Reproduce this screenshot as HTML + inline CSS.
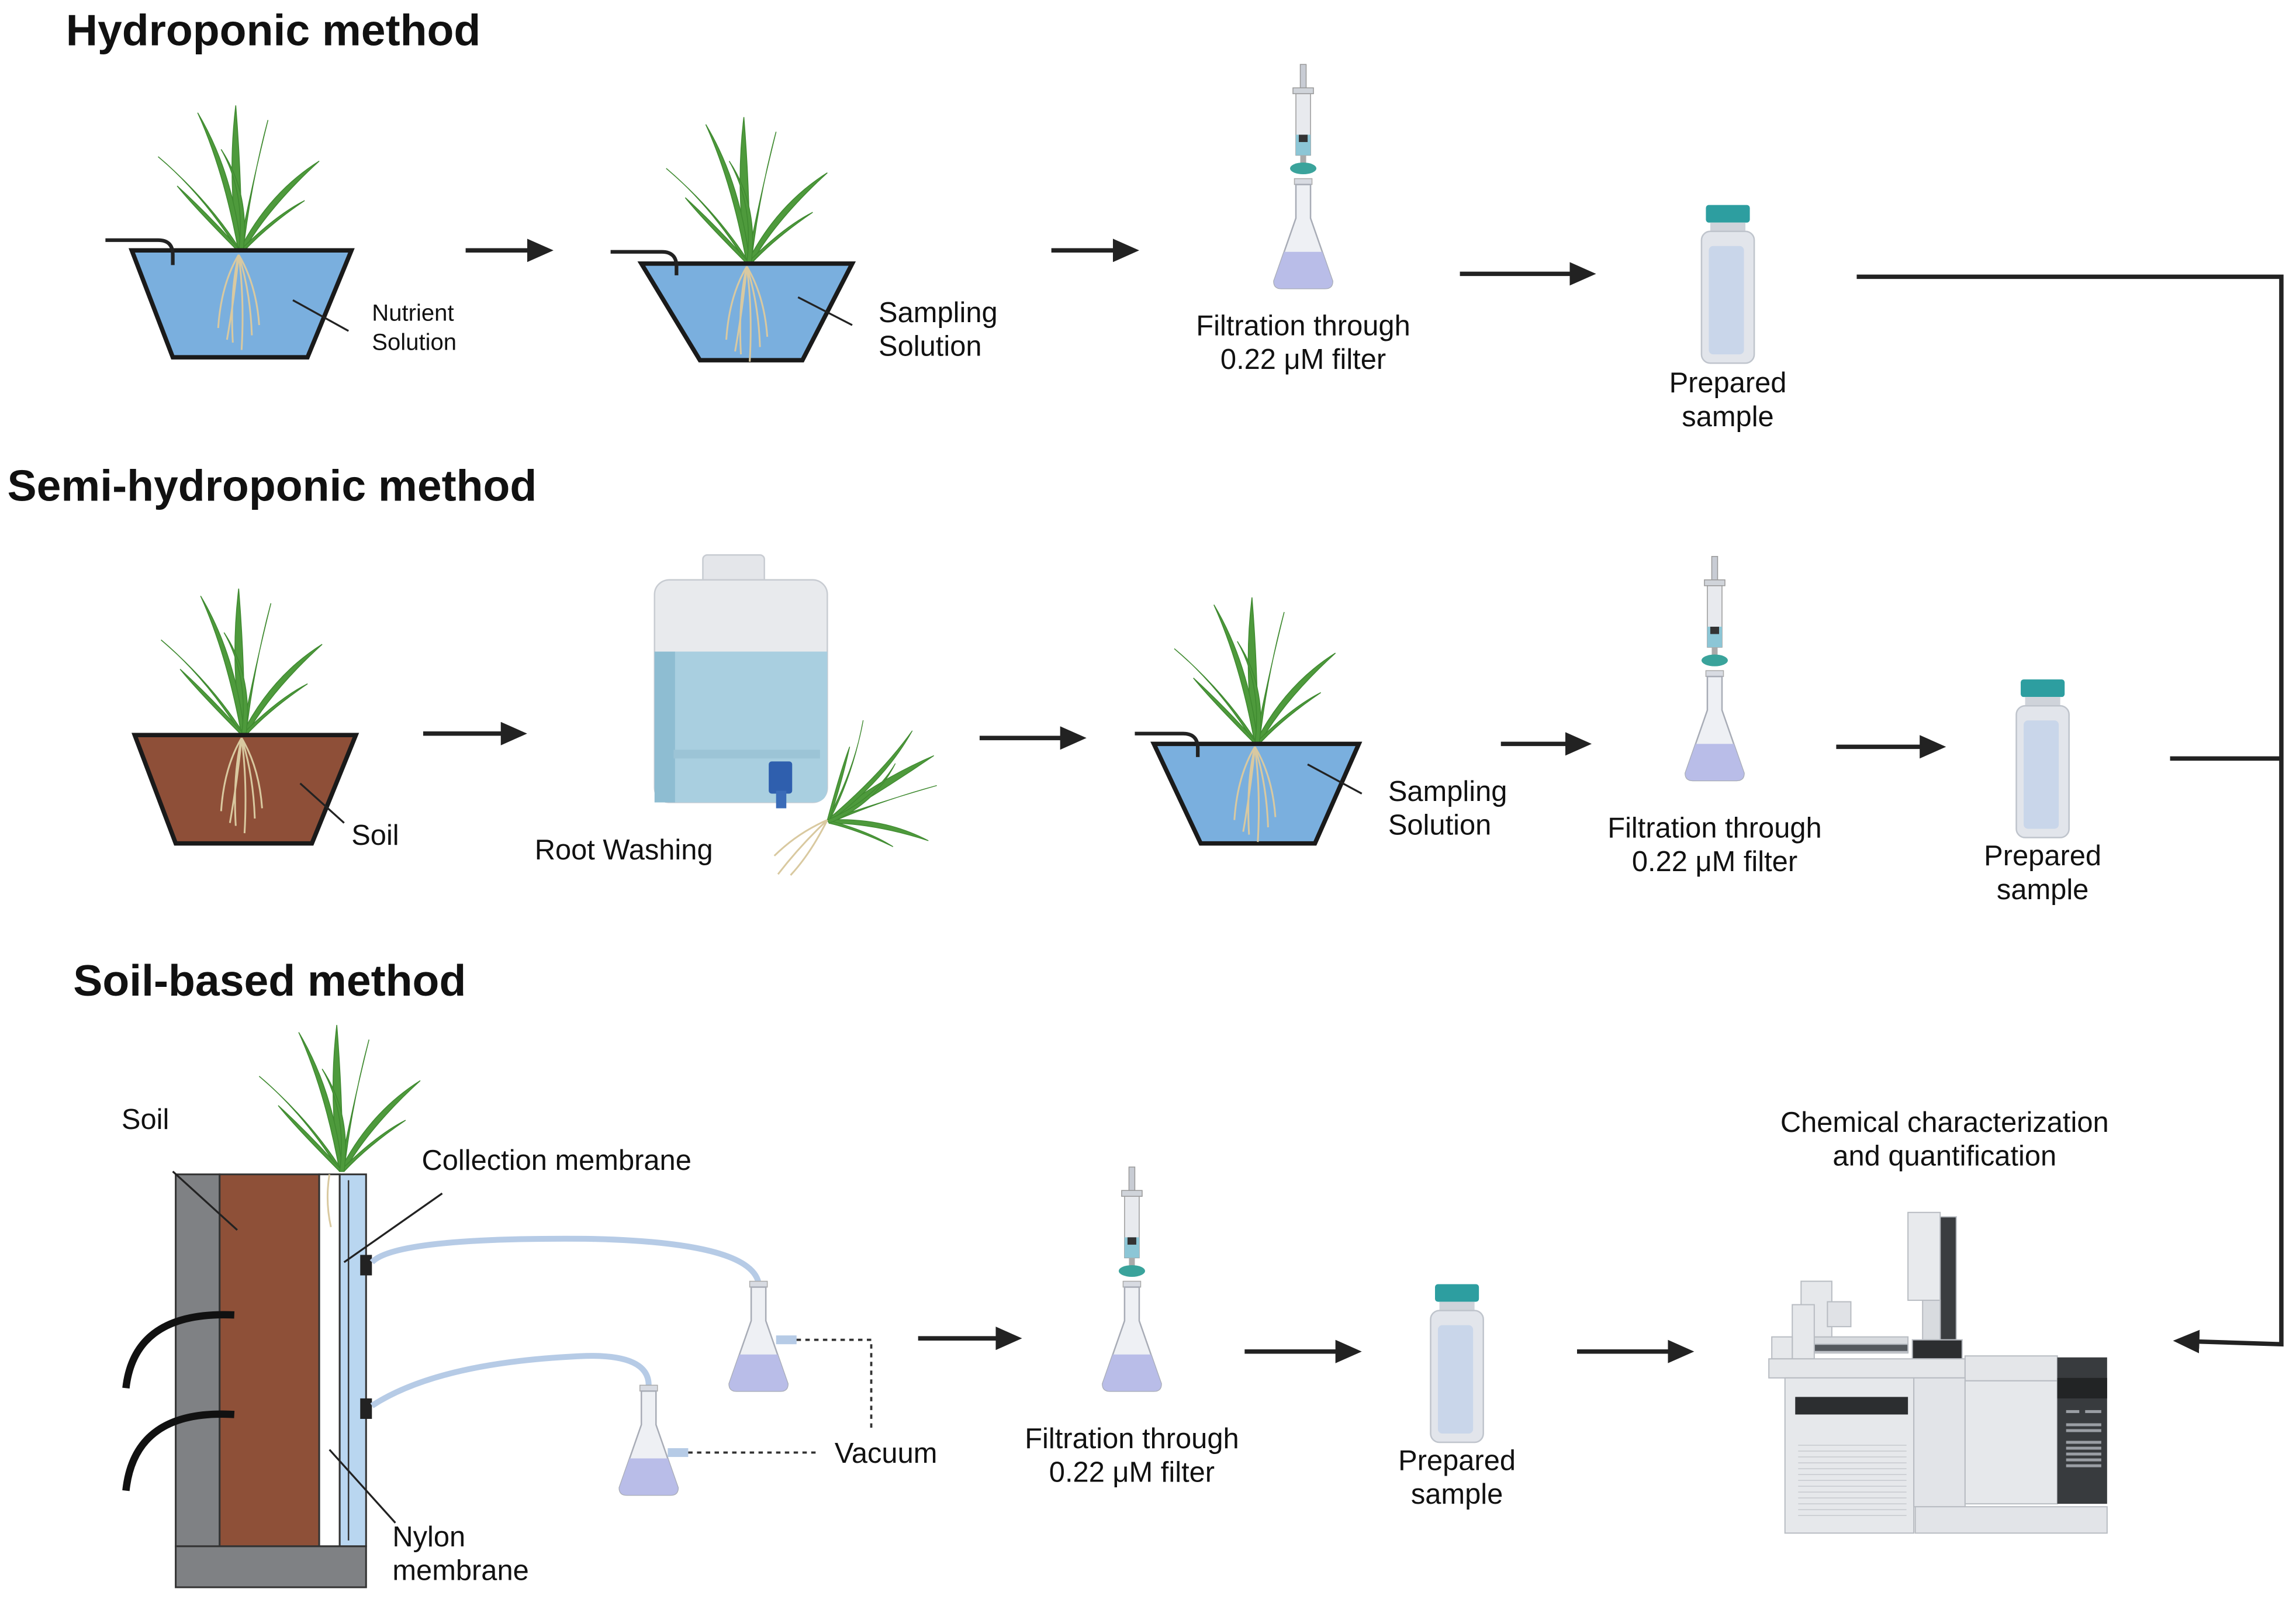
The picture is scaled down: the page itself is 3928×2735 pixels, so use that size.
<!DOCTYPE html>
<html><head><meta charset="utf-8"><style>
html,body{margin:0;padding:0;background:#fff;}
svg{display:block;}
text{font-family:"Liberation Sans",Arial,sans-serif;fill:#111;}
.t{font-size:30px;font-weight:bold;}
.l{font-size:19.5px;}
.s{font-size:16px;}
</style></head><body>
<svg width="3928" height="2735" viewBox="0 0 1568 1092" preserveAspectRatio="none" xmlns="http://www.w3.org/2000/svg">
<defs>
<marker id="ah" markerWidth="20" markerHeight="16" refX="6" refY="8" orient="auto" markerUnits="userSpaceOnUse"><path d="M0,0 L18,8 L0,16 Z" fill="#222"/></marker>
<g id="plant">
  <g fill="#4e9a3c" stroke="#3f8a30" stroke-width="0.6">
    <path d="M0,0 Q-8,-50 -2,-100 Q2,-50 2,0Z"/>
    <path d="M0,0 Q-10,-55 -28,-95 Q-4,-55 2,0Z"/>
    <path d="M0,0 Q-25,-40 -55,-65 Q-20,-35 2,0Z"/>
    <path d="M0,0 Q-30,-30 -42,-45 Q-20,-25 2,0Z"/>
    <path d="M0,0 Q10,-50 20,-90 Q8,-45 3,0Z"/>
    <path d="M0,0 Q20,-40 55,-62 Q20,-30 3,0Z"/>
    <path d="M0,0 Q25,-25 45,-35 Q20,-18 3,0Z"/>
    <path d="M0,0 Q5,-40 -12,-70 Q8,-40 3,0Z"/>
  </g>
</g>
<g id="roots" stroke="#d9c9a0" stroke-width="1.2" fill="none">
  <path d="M0,0 Q-6,25 -4,60"/><path d="M0,0 Q4,30 2,65"/><path d="M0,0 Q-12,20 -14,50"/>
  <path d="M0,0 Q12,20 14,48"/><path d="M0,0 Q-3,30 -8,58"/><path d="M0,0 Q8,25 9,55"/>
</g>
<g id="fbody">
  <rect x="-6" y="78" width="12" height="4" fill="#d8dbe2" stroke="#aaa" stroke-width="0.6"/>
  <path d="M-5,82 L-5,105 L-20,148 Q-20,153 -15,153 L15,153 Q20,153 20,148 L5,105 L5,82Z" fill="#eef0f4" stroke="#a8acb6" stroke-width="1"/>
  <path d="M-13,128 L13,128 L20,148 Q20,153 15,153 L-15,153 Q-20,153 -20,148Z" fill="#b9bde8"/>
</g>
<g id="flask">
  <rect x="-2" y="0" width="4" height="18" fill="#c8ccd4" stroke="#999" stroke-width="0.6"/>
  <rect x="-7" y="16" width="14" height="4" fill="#d0d4da" stroke="#999" stroke-width="0.6"/>
  <rect x="-5" y="20" width="10" height="42" fill="#e8eaee" stroke="#999" stroke-width="0.6"/>
  <rect x="-5" y="48" width="10" height="14" fill="#8cc6d6"/>
  <rect x="-3" y="48" width="6" height="5" fill="#333"/>
  <rect x="-2" y="62" width="4" height="6" fill="#aaa"/>
  <ellipse cx="0" cy="71" rx="9" ry="4" fill="#3aa39b"/>
  <use href="#fbody"/>
</g>
<g id="vial">
  <rect x="-15" y="0" width="30" height="12" rx="2" fill="#2d9ea0"/>
  <rect x="-12" y="12" width="24" height="6" fill="#cfd3da"/>
  <rect x="-18" y="18" width="36" height="90" rx="6" fill="#e2e5eb" stroke="#bfc4cc" stroke-width="1"/>
  <rect x="-13" y="28" width="24" height="74" rx="3" fill="#c9d6ea"/>
</g>
</defs>

<text class="t" x="45" y="31">Hydroponic method</text>
<text class="t" x="5" y="342">Semi-hydroponic method</text>
<text class="t" x="50" y="680">Soil-based method</text>

<!-- Row 1 -->
<use href="#plant" x="163" y="172"/>
<path d="M90,171 L240,171 L210,244 L118,244Z" fill="#7aafde" stroke="#1a1a1a" stroke-width="3"/>
<use href="#roots" x="163" y="174"/>
<path d="M72,164 L108,164 Q118,164 118,174 L118,181" fill="none" stroke="#222" stroke-width="2.5"/>
<line x1="200" y1="205" x2="238" y2="226" stroke="#222" stroke-width="1.3"/>
<text class="s" x="254" y="219">Nutrient</text>
<text class="s" x="254" y="239">Solution</text>
<line x1="318" y1="171" x2="366" y2="171" stroke="#222" stroke-width="3" marker-end="url(#ah)"/>

<use href="#plant" x="510" y="180"/>
<path d="M438,180 L582,180 L548,246 L478,246Z" fill="#7aafde" stroke="#1a1a1a" stroke-width="3"/>
<use href="#roots" x="510" y="182"/>
<path d="M417,172 L452,172 Q462,172 462,182 L462,188" fill="none" stroke="#222" stroke-width="2.5"/>
<line x1="545" y1="203" x2="582" y2="222" stroke="#222" stroke-width="1.3"/>
<text class="l" x="600" y="220">Sampling</text>
<text class="l" x="600" y="243">Solution</text>
<line x1="718" y1="171" x2="766" y2="171" stroke="#222" stroke-width="3" marker-end="url(#ah)"/>

<use href="#flask" x="890" y="44"/>
<text class="l" x="890" y="229" text-anchor="middle">Filtration through</text>
<text class="l" x="890" y="252" text-anchor="middle">0.22 μM filter</text>
<line x1="997" y1="187" x2="1078" y2="187" stroke="#222" stroke-width="3" marker-end="url(#ah)"/>
<use href="#vial" x="1180" y="140"/>
<text class="l" x="1180" y="268" text-anchor="middle">Prepared</text>
<text class="l" x="1180" y="291" text-anchor="middle">sample</text>

<path d="M1268,189 L1558,189 L1558,918 L1496,916" fill="none" stroke="#222" stroke-width="3" marker-end="url(#ah)"/>
<line x1="1482" y1="518" x2="1558" y2="518" stroke="#222" stroke-width="3"/>

<!-- Row 2 -->
<use href="#plant" x="165" y="502"/>
<path d="M92,502 L243,502 L213,576 L120,576Z" fill="#8e4f38" stroke="#1a1a1a" stroke-width="3"/>
<use href="#roots" x="165" y="504"/>
<line x1="205" y1="535" x2="235" y2="562" stroke="#222" stroke-width="1.3"/>
<text class="l" x="240" y="577">Soil</text>
<line x1="289" y1="501" x2="348" y2="501" stroke="#222" stroke-width="3" marker-end="url(#ah)"/>

<rect x="480" y="379" width="42" height="20" rx="3" fill="#e4e6ea" stroke="#c8ccd2"/>
<rect x="447" y="396" width="118" height="152" rx="10" fill="#e8eaed" stroke="#c8ccd2"/>
<path d="M447,445 L565,445 L565,538 Q565,548 555,548 L457,548 Q447,548 447,538Z" fill="#a9cfe0"/>
<rect x="447" y="445" width="14" height="103" fill="#8ebdd2"/>
<rect x="460" y="512" width="100" height="6" fill="#9cc4d6"/>
<rect x="525" y="520" width="16" height="22" rx="2" fill="#2f5fae"/>
<rect x="530" y="540" width="7" height="12" fill="#3a6bb8"/>
<g transform="translate(565,560) rotate(60) scale(0.85)"><use href="#plant" x="0" y="0"/></g>
<g transform="translate(565,560) rotate(40)" stroke="#d9c9a0" stroke-width="1.2" fill="none"><path d="M0,0 Q-3,25 -2,50"/><path d="M0,0 Q6,25 5,45"/><path d="M0,0 Q-10,20 -12,42"/></g>
<text class="l" x="426" y="587" text-anchor="middle">Root Washing</text>
<line x1="669" y1="504" x2="730" y2="504" stroke="#222" stroke-width="3" marker-end="url(#ah)"/>

<use href="#plant" x="857" y="508"/>
<path d="M788,508 L928,508 L898,576 L820,576Z" fill="#7aafde" stroke="#1a1a1a" stroke-width="3"/>
<use href="#roots" x="857" y="510"/>
<path d="M775,501 L808,501 Q818,501 818,511 L818,517" fill="none" stroke="#222" stroke-width="2.5"/>
<line x1="893" y1="522" x2="930" y2="542" stroke="#222" stroke-width="1.3"/>
<text class="l" x="948" y="547">Sampling</text>
<text class="l" x="948" y="570">Solution</text>
<line x1="1025" y1="508" x2="1075" y2="508" stroke="#222" stroke-width="3" marker-end="url(#ah)"/>
<use href="#flask" x="1171" y="380"/>
<text class="l" x="1171" y="572" text-anchor="middle">Filtration through</text>
<text class="l" x="1171" y="595" text-anchor="middle">0.22 μM filter</text>
<line x1="1254" y1="510" x2="1317" y2="510" stroke="#222" stroke-width="3" marker-end="url(#ah)"/>
<use href="#vial" x="1395" y="464"/>
<text class="l" x="1395" y="591" text-anchor="middle">Prepared</text>
<text class="l" x="1395" y="614" text-anchor="middle">sample</text>

<!-- Row 3 -->
<use href="#plant" x="232" y="800"/>
<rect x="120" y="802" width="30" height="254" fill="#7f8184" stroke="#333" stroke-width="1.2"/>
<rect x="150" y="802" width="68" height="254" fill="#8e5038" stroke="#333" stroke-width="1.2"/>
<rect x="218" y="802" width="14" height="254" fill="#fff" stroke="#333" stroke-width="1.2"/>
<rect x="232" y="802" width="18" height="254" fill="#b9d6f0" stroke="#333" stroke-width="1.2"/>
<line x1="238" y1="806" x2="238" y2="1052" stroke="#333" stroke-width="1"/>
<path d="M225,802 Q222,820 226,838" stroke="#d9c9a0" stroke-width="1.2" fill="none"/>
<rect x="120" y="1056" width="130" height="28" fill="#7f8184" stroke="#333" stroke-width="1.2"/>
<path d="M86,948 Q92,895 160,898" fill="none" stroke="#111" stroke-width="5"/>
<path d="M86,1018 Q92,962 160,966" fill="none" stroke="#111" stroke-width="5"/>
<rect x="246" y="857" width="8" height="14" fill="#222"/>
<rect x="246" y="955" width="8" height="14" fill="#222"/>
<path d="M254,862 Q270,845 400,846 Q512,848 518,876" fill="none" stroke="#b6cbe6" stroke-width="4"/>
<path d="M254,960 Q300,930 400,926 Q443,925 443,946" fill="none" stroke="#b6cbe6" stroke-width="4"/>
<line x1="118" y1="800" x2="162" y2="840" stroke="#222" stroke-width="1.3"/>
<text class="l" x="83" y="771">Soil</text>
<line x1="302" y1="815" x2="235" y2="862" stroke="#222" stroke-width="1.3"/>
<text class="l" x="288" y="799">Collection membrane</text>
<line x1="270" y1="1040" x2="225" y2="990" stroke="#222" stroke-width="1.3"/>
<text class="l" x="268" y="1056">Nylon</text>
<text class="l" x="268" y="1079">membrane</text>

<use href="#fbody" x="518" y="797"/>
<use href="#fbody" x="443" y="868"/>
<rect x="530" y="912" width="14" height="6" fill="#b6cbe6"/>
<rect x="456" y="989" width="14" height="6" fill="#b6cbe6"/>
<path d="M544,915 L595,915 L595,978" fill="none" stroke="#333" stroke-width="1.5" stroke-dasharray="3,3"/>
<path d="M470,992 L560,992" fill="none" stroke="#333" stroke-width="1.5" stroke-dasharray="3,3"/>
<text class="l" x="570" y="999">Vacuum</text>

<line x1="627" y1="914" x2="686" y2="914" stroke="#222" stroke-width="3" marker-end="url(#ah)"/>
<use href="#flask" x="773" y="797"/>
<text class="l" x="773" y="989" text-anchor="middle">Filtration through</text>
<text class="l" x="773" y="1012" text-anchor="middle">0.22 μM filter</text>
<line x1="850" y1="923" x2="918" y2="923" stroke="#222" stroke-width="3" marker-end="url(#ah)"/>
<use href="#vial" x="995" y="877"/>
<text class="l" x="995" y="1004" text-anchor="middle">Prepared</text>
<text class="l" x="995" y="1027" text-anchor="middle">sample</text>
<line x1="1077" y1="923" x2="1145" y2="923" stroke="#222" stroke-width="3" marker-end="url(#ah)"/>

<!-- Instrument -->
<text class="l" x="1328" y="773" text-anchor="middle">Chemical characterization</text>
<text class="l" x="1328" y="796" text-anchor="middle">and quantification</text>
<g stroke="#b8bcc2" stroke-width="0.8">
<rect x="1303" y="828" width="22" height="60" fill="#e8eaed"/>
<rect x="1325" y="831" width="11" height="84" fill="#3a3d40"/>
<rect x="1313" y="888" width="12" height="27" fill="#d8dbdf"/>
<rect x="1306" y="915" width="34" height="13" fill="#2c2e30"/>
<rect x="1239" y="913" width="64" height="11" fill="#d8dbdf"/>
<rect x="1239" y="918" width="64" height="5" fill="#54595e"/>
<rect x="1230" y="875" width="21" height="38" fill="#e6e8eb"/>
<rect x="1224" y="891" width="15" height="37" fill="#e6e8eb"/>
<rect x="1248" y="889" width="16" height="17" fill="#e0e2e6"/>
<rect x="1210" y="913" width="14" height="15" fill="#e6e8eb"/>
<rect x="1208" y="928" width="134" height="13" fill="#e4e6e9"/>
<rect x="1342" y="926" width="63" height="17" fill="#e4e6e9"/>
<rect x="1219" y="941" width="88" height="106" fill="#e6e8eb"/>
<rect x="1307" y="941" width="35" height="88" fill="#e2e4e8"/>
<rect x="1342" y="943" width="63" height="84" fill="#e6e8eb"/>
<rect x="1308" y="1029" width="131" height="18" fill="#e2e4e8"/>
</g>
<rect x="1226" y="954" width="77" height="12" fill="#2c2e30"/>
<rect x="1405" y="927" width="34" height="100" fill="#383b3e"/>
<rect x="1405" y="941" width="34" height="14" fill="#222425"/>
<g stroke="#c6c9ce" stroke-width="0.6">
<line x1="1228" y1="987" x2="1302" y2="987"/><line x1="1228" y1="991" x2="1302" y2="991"/>
<line x1="1228" y1="995" x2="1302" y2="995"/><line x1="1228" y1="999" x2="1302" y2="999"/>
<line x1="1228" y1="1003" x2="1302" y2="1003"/><line x1="1228" y1="1007" x2="1302" y2="1007"/>
<line x1="1228" y1="1011" x2="1302" y2="1011"/><line x1="1228" y1="1015" x2="1302" y2="1015"/>
<line x1="1228" y1="1019" x2="1302" y2="1019"/><line x1="1228" y1="1023" x2="1302" y2="1023"/>
<line x1="1228" y1="1027" x2="1302" y2="1027"/><line x1="1228" y1="1031" x2="1302" y2="1031"/>
<line x1="1228" y1="1035" x2="1302" y2="1035"/>
</g>
<g fill="#9a9ea4">
<rect x="1411" y="963" width="9" height="2"/><rect x="1424" y="963" width="11" height="2"/>
<rect x="1411" y="972" width="24" height="2"/><rect x="1411" y="976" width="24" height="2"/>
<rect x="1411" y="984" width="24" height="2"/><rect x="1411" y="988" width="24" height="2"/>
<rect x="1411" y="992" width="24" height="2"/><rect x="1411" y="996" width="24" height="2"/>
<rect x="1411" y="1000" width="24" height="2"/>
</g>
</svg>
</body></html>
